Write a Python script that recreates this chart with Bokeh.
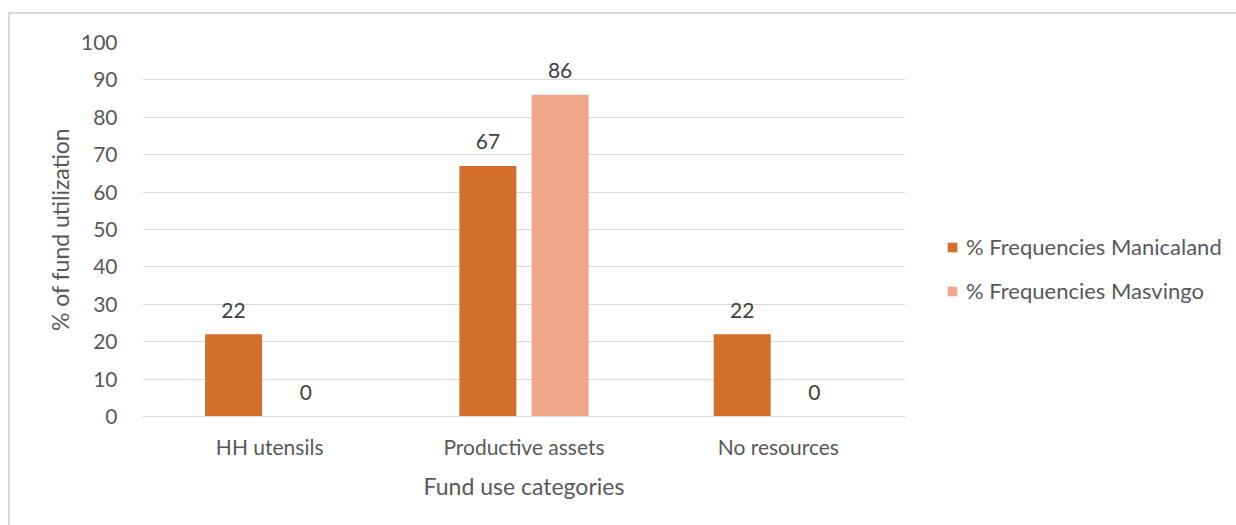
from bokeh.plotting import figure
from bokeh.models import ColumnDataSource, FactorRange
from bokeh.transform import dodge
from bokeh.core.properties import value
from bokeh.embed import file_html
from bokeh.resources import INLINE

categories = ["HH utensils", "Productive assets", "No resources"]
manicaland = [22, 67, 22]
masvingo = [0, 86, 0]
series_names = ["% Frequencies Manicaland", "% Frequencies Masvingo"]
y_ticks = [0, 10, 20, 30, 40, 50, 60, 70, 80, 90, 100]

FONT = "Lato"
C1 = "#D36F2B"
C2 = "#F1A88A"
TXT = "#595959"

src = ColumnDataSource(dict(
    cat=categories,
    man=manicaland,
    mas=masvingo,
    man_lbl=[str(v) for v in manicaland],
    mas_lbl=[str(v) for v in masvingo],
))

p = figure(
    x_range=FactorRange(*categories, range_padding=0),
    y_range=(0, 100),
    frame_width=763, frame_height=374,
    output_backend="svg", toolbar_location=None,
    min_border_left=132, min_border_top=28, min_border_bottom=109, min_border_right=0,
    margin=(12, 0, 0, 8),
    styles={"border-top": "2px solid #D9D9D9", "border-left": "2px solid #D9D9D9"},
)
p.outline_line_color = None

OFF = 0.142
W = 0.224
p.vbar(x=dodge("cat", -OFF, range=p.x_range), top="man", width=W, source=src,
       fill_color=C1, line_color=None, legend_label=series_names[0])
p.vbar(x=dodge("cat", OFF, range=p.x_range), top="mas", width=W, source=src,
       fill_color=C2, line_color=None, legend_label=series_names[1])

for col, off in (("man", -OFF), ("mas", OFF)):
    p.text(x=dodge("cat", off, range=p.x_range), y=col, text=col + "_lbl", source=src,
           y_offset=-24, text_align="center", text_baseline="middle",
           text_font=value(FONT), text_font_size="21px", text_color="#404040")

# grid
p.xgrid.grid_line_color = None
p.ygrid.grid_line_color = "#D9D9D9"
p.ygrid.grid_line_width = 1

# y axis
p.yaxis.ticker = y_ticks
p.yaxis.axis_line_color = None
p.yaxis.major_tick_line_color = None
p.yaxis.minor_tick_line_color = None
p.yaxis.major_label_standoff = 19
p.yaxis.major_label_text_font = FONT
p.yaxis.major_label_text_font_size = "21px"
p.yaxis.major_label_text_color = TXT
p.yaxis.axis_label = "% of fund utilization"
p.yaxis.axis_label_text_font = FONT
p.yaxis.axis_label_text_font_size = "23px"
p.yaxis.axis_label_text_font_style = "normal"
p.yaxis.axis_label_text_color = TXT
p.yaxis.axis_label_standoff = 4

# x axis
p.xaxis.axis_line_color = "#D9D9D9"
p.xaxis.axis_line_width = 1
p.xaxis.major_tick_line_color = None
p.xaxis.minor_tick_line_color = None
p.xaxis.major_label_standoff = 11
p.xaxis.major_label_text_font = FONT
p.xaxis.major_label_text_font_size = "21px"
p.xaxis.major_label_text_color = TXT
p.xaxis.axis_label = "Fund use categories"
p.xaxis.axis_label_text_font = FONT
p.xaxis.axis_label_text_font_size = "23px"
p.xaxis.axis_label_text_font_style = "normal"
p.xaxis.axis_label_text_color = TXT
p.xaxis.axis_label_standoff = 10

# legend in the right panel
lg = p.legend[0]
p.center.remove(lg)
p.add_layout(lg, "right")
lg.location = (41, 112)
lg.border_line_color = None
lg.background_fill_alpha = 0
lg.padding = 0
lg.margin = 0
lg.glyph_width = 12
lg.glyph_height = 12
lg.label_standoff = 8
lg.spacing = 17
lg.label_text_font = FONT
lg.label_text_font_size = "22px"
lg.label_text_color = TXT

open("out.html", "w").write(file_html(p, INLINE))
